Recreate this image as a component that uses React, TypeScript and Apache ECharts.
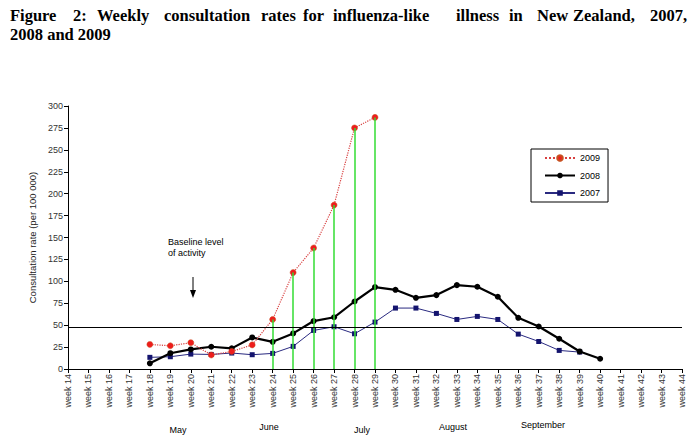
import React, { useEffect, useRef } from "react";
import * as echarts from "echarts";

const weekLabels = [
  "week 14", "week 15", "week 16", "week 17", "week 18", "week 19", "week 20", "week 21",
  "week 22", "week 23", "week 24", "week 25", "week 26", "week 27", "week 28", "week 29",
  "week 30", "week 31", "week 32", "week 33", "week 34", "week 35", "week 36", "week 37",
  "week 38", "week 39", "week 40", "week 41", "week 42", "week 43", "week 44",
];

const N = null;
// weeks 14..44
const rates2009 = [N, N, N, N, 28, 26.5, 30, 16, 20, 27.5, 56.5, 110, 138, 187, 275, 287,
  N, N, N, N, N, N, N, N, N, N, N, N, N, N, N];
const rates2008 = [N, N, N, N, 6.5, 18, 22.3, 25.4, 23.5, 36, 31, 40.6, 54.7, 59, 77, 93.4,
  90.3, 81.2, 84.3, 95.7, 93.8, 82.4, 58.4, 48.5, 34.5, 20, 11.7, N, N, N, N];
const rates2007 = [N, N, N, N, 13.3, 14, 17, 16.6, 18.2, 16.3, 17.8, 25.8, 44, 48.2, 40.2, 53.5,
  69.5, 69.5, 63.4, 56.5, 60, 56.5, 39.8, 31.4, 21.2, 19.3, N, N, N, N, N];

const dropLineWeeks = ["week 24", "week 25", "week 26", "week 27", "week 28", "week 29"];
const baselineLevel = 48;
const yTicks = { min: 0, max: 300, interval: 25 };

const titleLine1 = ["Figure", "2:", "Weekly", "consultation", "rates", "for", "influenza-like",
  "illness", "in", "New", "Zealand,", "2007,"];
const titleLine2 = "2008 and 2009";
const months = ["May", "June", "July", "August", "September"];
const annotation = "Baseline level\nof activity";
const yAxisName = "Consultation rate (per 100 000)";

const SANS = "Liberation Sans, Arial, sans-serif";
const SERIF = "Liberation Serif, Times New Roman, serif";

export default function App() {
  const ref = useRef<HTMLDivElement>(null);

  useEffect(() => {
    if (!ref.current) return;
    const chart = echarts.init(ref.current, undefined, { renderer: "svg" });

    const wordX = [10, 73, 97, 164, 261, 303, 333, 456, 509, 537, 573, 650];
    const monthPos = [
      [178, 430], [269, 427], [362, 430], [453, 427], [543, 425],
    ];

    const titleStyle = {
      fontSize: 16.5, fontWeight: "bold", fontFamily: SERIF, lineHeight: 18.5, fill: "#000",
    };
    const titleGraphics: any[] = titleLine1.map((w, i) => ({
      type: "text",
      left: wordX[i],
      top: 6.3,
      style: { ...titleStyle, text: w },
    }));
    titleGraphics.push({
      type: "text",
      left: 10,
      top: 25,
      style: { ...titleStyle, text: titleLine2 },
    });

    const monthGraphics = months.map((m, i) => ({
      type: "text",
      x: monthPos[i][0],
      y: monthPos[i][1],
      style: {
        text: m, fontSize: 9, fontFamily: SANS, fill: "#000",
        align: "center", verticalAlign: "middle",
      },
    }));

    const option: any = {
      animation: false,
      backgroundColor: "#fff",
      grid: { left: 68, right: 18, top: 106, bottom: 71, containLabel: false },
      legend: {
        data: ["2009", "2008", "2007"],
        orient: "vertical",
        left: 531,
        top: 149,
        borderColor: "#000",
        borderWidth: 1,
        borderRadius: 0,
        padding: [3, 8, 3, 13],
        itemGap: 5.5,
        itemWidth: 30,
        itemHeight: 7,
        textStyle: { fontSize: 9, fontFamily: SANS, color: "#000", lineHeight: 12 },
      },
      xAxis: {
        type: "category",
        data: weekLabels,
        boundaryGap: false,
        axisLine: { lineStyle: { color: "#000", width: 1 } },
        axisTick: { show: true, length: 4, interval: 0, lineStyle: { color: "#000" } },
        axisLabel: {
          rotate: 90, interval: 0, fontSize: 9, fontFamily: SANS, color: "#333", margin: 5,
        },
        splitLine: { show: false },
      },
      yAxis: {
        type: "value",
        min: yTicks.min,
        max: yTicks.max,
        interval: yTicks.interval,
        name: yAxisName,
        nameLocation: "middle",
        nameRotate: 90,
        nameGap: 25,
        nameTextStyle: { fontSize: 9.5, fontFamily: SANS, color: "#222" },
        axisLine: { show: true, lineStyle: { color: "#000", width: 1 } },
        axisTick: { show: true, length: 4, lineStyle: { color: "#000" } },
        axisLabel: { fontSize: 9, fontFamily: SANS, color: "#333", margin: 5 },
        splitLine: { show: false },
      },
      series: [
        {
          name: "2009",
          type: "line",
          data: rates2009,
          symbol: "circle",
          symbolSize: 6,
          z: 4,
          lineStyle: { color: "#d84040", width: 1.2, type: "dotted" },
          itemStyle: { color: "#ee1c1c", borderColor: "#c85020", borderWidth: 0.5 },
          markLine: {
            silent: true,
            symbol: ["none", "none"],
            label: { show: false },
            lineStyle: { color: "#33dd33", width: 1.5, type: "solid" },
            data: dropLineWeeks.map((w) => [
              { coord: [w, 0] },
              { coord: [w, rates2009[weekLabels.indexOf(w)]] },
            ]),
          },
        },
        {
          name: "2008",
          type: "line",
          data: rates2008,
          symbol: "circle",
          symbolSize: 6,
          z: 3,
          lineStyle: { color: "#000", width: 2.2 },
          itemStyle: { color: "#000" },
          markLine: {
            silent: true,
            symbol: ["none", "none"],
            label: { show: false },
            lineStyle: { color: "#000", width: 1.2, type: "solid" },
            data: [{ yAxis: baselineLevel }],
          },
        },
        {
          name: "2007",
          type: "line",
          data: rates2007,
          symbol: "rect",
          symbolSize: 5,
          z: 2,
          lineStyle: { color: "#2a2a80", width: 1 },
          itemStyle: { color: "#14146e" },
        },
      ],
      graphic: [
        ...titleGraphics,
        {
          type: "text",
          left: 168,
          top: 236,
          style: { text: annotation, fontSize: 9, fontFamily: SANS, fill: "#000", lineHeight: 11 },
        },
        {
          type: "line",
          shape: { x1: 193, y1: 277, x2: 193, y2: 293 },
          style: { stroke: "#000", lineWidth: 1 },
        },
        {
          type: "polygon",
          shape: { points: [[190, 290], [196, 290], [193, 298]] },
          style: { fill: "#000" },
        },
        ...monthGraphics,
      ],
    };

    chart.setOption(option);
    return () => chart.dispose();
  }, []);

  return (
    <div
      ref={ref}
      style={{ position: "fixed", left: 0, top: 0, width: 700, height: 440, background: "#fff" }}
    />
  );
}
